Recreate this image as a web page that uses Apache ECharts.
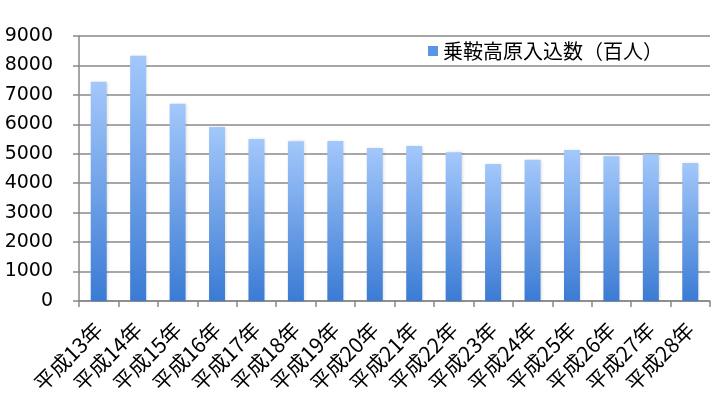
<!DOCTYPE html>
<html><head><meta charset="utf-8">
<script src="https://cdn.jsdelivr.net/npm/echarts@6/dist/echarts.min.js"></script>
<style>html,body{margin:0;padding:0;background:#fff}#c{width:723px;height:406px}</style>
</head><body><div id="c"></div>
<script>
const categories = ['平成13年','平成14年','平成15年','平成16年','平成17年','平成18年','平成19年','平成20年','平成21年','平成22年','平成23年','平成24年','平成25年','平成26年','平成27年','平成28年'];
const visitors = [7450, 8330, 6700, 5910, 5500, 5425, 5435, 5200, 5265, 5050, 4655, 4800, 5130, 4915, 4985, 4690];
const yTicks = [0, 1000, 2000, 3000, 4000, 5000, 6000, 7000, 8000, 9000];
const seriesName = '乗鞍高原入込数（百人）';

const chart = echarts.init(document.getElementById('c'), null, {renderer: 'canvas'});
const grad = new echarts.graphic.LinearGradient(0, 0, 0, 1, [
  {offset: 0, color: '#a3c8fb'},
  {offset: 1, color: '#3b7bd4'}
]);
chart.setOption({
  animation: false,
  legend: {
    data: [{name: seriesName, itemStyle: {color: '#5b95e6'}}],
    left: 423, top: 36,
    itemWidth: 10, itemHeight: 10, itemGap: 6,
    icon: 'rect',
    textStyle: {fontFamily: '"Noto Sans CJK JP"', fontSize: 20, color: '#000'}
  },
  grid: {left: 79, right: 13, top: 36, bottom: 105, containLabel: false},
  xAxis: {
    type: 'category',
    data: categories,
    axisLine: {lineStyle: {color: '#888', width: 1.5}},
    axisTick: {show: true, length: 6, lineStyle: {color: '#888', width: 1.5}},
    axisLabel: {rotate: 45, margin: 25, fontFamily: '"Noto Sans CJK JP"', fontSize: 21, color: '#000', interval: 0, hideOverlap: false}
  },
  yAxis: {
    type: 'value',
    min: yTicks[0], max: yTicks[yTicks.length - 1], interval: 1000,
    axisLine: {show: true, lineStyle: {color: '#888', width: 1.5}},
    axisTick: {show: true, length: 6, lineStyle: {color: '#888', width: 1.5}},
    splitLine: {lineStyle: {color: '#8a8a8a', width: 1.5}},
    axisLabel: {margin: 26, fontFamily: '"DejaVu Sans"', fontSize: 19, color: '#000', formatter: v => String(v)}
  },
  series: [{
    name: seriesName,
    type: 'bar',
    data: visitors,
    barWidth: 16,
    itemStyle: {color: grad, shadowColor: 'rgba(0,0,0,0.15)', shadowBlur: 3, shadowOffsetX: 1}
  }]
});
</script></body></html>
